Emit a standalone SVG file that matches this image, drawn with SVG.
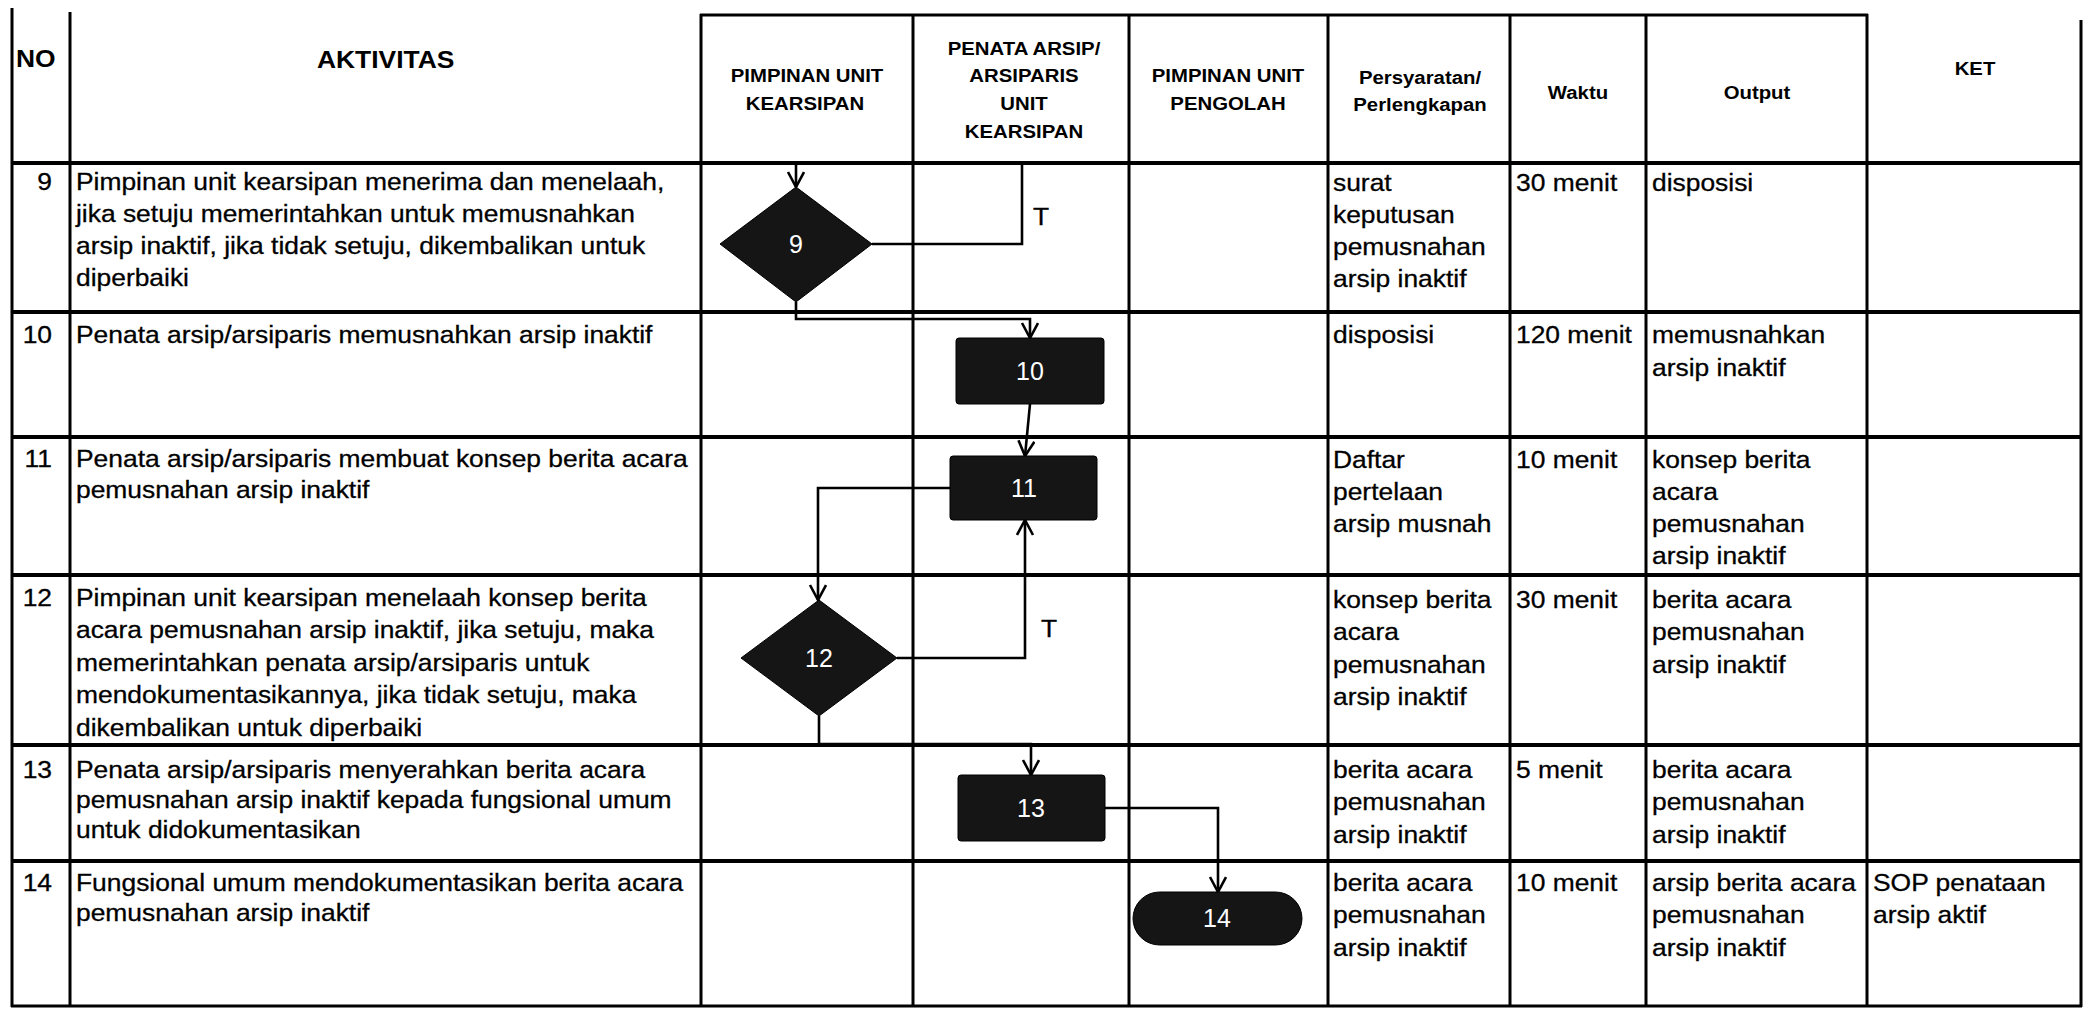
<svg xmlns="http://www.w3.org/2000/svg" width="2087" height="1014" viewBox="0 0 2087 1014">
<style>
.bg{fill:#fff}
.gv{stroke:#000;stroke-width:3;fill:none}
.gh{stroke:#000;stroke-width:4;fill:none}
.t{font-family:"Liberation Sans",Arial,sans-serif;font-size:24px;fill:#000;stroke:#000;stroke-width:0.3}
.h{font-family:"Liberation Sans",Arial,sans-serif;font-size:18.5px;font-weight:bold;fill:#000;text-anchor:middle}
.hb{font-family:"Liberation Sans",Arial,sans-serif;font-size:24px;font-weight:bold;fill:#000}
.num{text-anchor:end}
.node{fill:#151515;stroke:#000;stroke-width:1}
.nl{font-family:"Liberation Sans",Arial,sans-serif;font-size:25px;fill:#fff;text-anchor:middle}
.c{stroke:#000;stroke-width:2.6;fill:none;stroke-linejoin:miter}
</style>
<defs>
<marker id="arr" markerUnits="userSpaceOnUse" markerWidth="20" markerHeight="20" refX="16" refY="9" orient="auto">
<path d="M1,1 L16,9 L1,17" fill="none" stroke="#000" stroke-width="2.6"/>
</marker>
</defs>
<rect class="bg" x="0" y="0" width="2087" height="1014"/>

<g id="grid">
<line class="gv" x1="12" y1="8" x2="12" y2="1007"/>
<line class="gv" x1="70" y1="12" x2="70" y2="1007"/>
<line class="gv" x1="701" y1="14" x2="701" y2="1007"/>
<line class="gv" x1="913" y1="14" x2="913" y2="1007"/>
<line class="gv" x1="1129" y1="14" x2="1129" y2="1007"/>
<line class="gv" x1="1328" y1="14" x2="1328" y2="1007"/>
<line class="gv" x1="1510" y1="14" x2="1510" y2="1007"/>
<line class="gv" x1="1646" y1="14" x2="1646" y2="1007"/>
<line class="gv" x1="1867" y1="14" x2="1867" y2="1007"/>
<line class="gv" x1="2081" y1="20" x2="2081" y2="1007"/>
<line class="gv" x1="700" y1="15" x2="1868" y2="15"/>
<line class="gh" x1="11" y1="163" x2="2082" y2="163"/>
<line class="gh" x1="11" y1="312" x2="2082" y2="312"/>
<line class="gh" x1="11" y1="437" x2="2082" y2="437"/>
<line class="gh" x1="11" y1="575" x2="2082" y2="575"/>
<line class="gh" x1="11" y1="745" x2="2082" y2="745"/>
<line class="gh" x1="11" y1="861" x2="2082" y2="861"/>
<line class="gv" x1="11" y1="1006" x2="2082" y2="1006"/>
</g>

<g id="header">
<text class="hb" transform="matrix(1.1 0 0 1 16 67)">NO</text>
<text class="hb" transform="matrix(1.1 0 0 1 317 68)">AKTIVITAS</text>
<text class="h" transform="matrix(1.1 0 0 1 807 82)">PIMPINAN UNIT</text>
<text class="h" transform="matrix(1.1 0 0 1 805 110)">KEARSIPAN</text>
<text class="h" transform="matrix(1.1 0 0 1 1024 55)">PENATA ARSIP/</text>
<text class="h" transform="matrix(1.1 0 0 1 1024 82)">ARSIPARIS</text>
<text class="h" transform="matrix(1.1 0 0 1 1024 110)">UNIT</text>
<text class="h" transform="matrix(1.1 0 0 1 1024 138)">KEARSIPAN</text>
<text class="h" transform="matrix(1.1 0 0 1 1228 82)">PIMPINAN UNIT</text>
<text class="h" transform="matrix(1.1 0 0 1 1228 110)">PENGOLAH</text>
<text class="h" transform="matrix(1.1 0 0 1 1420 84)">Persyaratan/</text>
<text class="h" transform="matrix(1.1 0 0 1 1420 111)">Perlengkapan</text>
<text class="h" transform="matrix(1.1 0 0 1 1578 99)">Waktu</text>
<text class="h" transform="matrix(1.1 0 0 1 1757 99)">Output</text>
<text class="h" transform="matrix(1.1 0 0 1 1975 75)">KET</text>
</g>

<g id="rows">
<text class="t num" transform="matrix(1.1 0 0 1 52 190)">9</text>
<text class="t" transform="matrix(1.1 0 0 1 76 190)"><tspan x="0" y="0">Pimpinan unit kearsipan menerima dan menelaah,</tspan><tspan x="0" y="32">jika setuju memerintahkan untuk memusnahkan</tspan><tspan x="0" y="64">arsip inaktif, jika tidak setuju, dikembalikan untuk</tspan><tspan x="0" y="96">diperbaiki</tspan></text>
<text class="t" transform="matrix(1.1 0 0 1 1333 191)"><tspan x="0" y="0">surat</tspan><tspan x="0" y="32">keputusan</tspan><tspan x="0" y="64">pemusnahan</tspan><tspan x="0" y="96">arsip inaktif</tspan></text>
<text class="t" transform="matrix(1.1 0 0 1 1516 191)">30 menit</text>
<text class="t" transform="matrix(1.1 0 0 1 1652 191)">disposisi</text>

<text class="t num" transform="matrix(1.1 0 0 1 52 343)">10</text>
<text class="t" transform="matrix(1.1 0 0 1 76 343)">Penata arsip/arsiparis memusnahkan arsip inaktif</text>
<text class="t" transform="matrix(1.1 0 0 1 1333 343)">disposisi</text>
<text class="t" transform="matrix(1.1 0 0 1 1516 343)">120 menit</text>
<text class="t" transform="matrix(1.1 0 0 1 1652 343)"><tspan x="0" y="0">memusnahkan</tspan><tspan x="0" y="33">arsip inaktif</tspan></text>

<text class="t num" transform="matrix(1.1 0 0 1 52 467)">11</text>
<text class="t" transform="matrix(1.1 0 0 1 76 467)"><tspan x="0" y="0">Penata arsip/arsiparis membuat konsep berita acara</tspan><tspan x="0" y="31">pemusnahan arsip inaktif</tspan></text>
<text class="t" transform="matrix(1.1 0 0 1 1333 468)"><tspan x="0" y="0">Daftar</tspan><tspan x="0" y="32">pertelaan</tspan><tspan x="0" y="64">arsip musnah</tspan></text>
<text class="t" transform="matrix(1.1 0 0 1 1516 468)">10 menit</text>
<text class="t" transform="matrix(1.1 0 0 1 1652 468)"><tspan x="0" y="0">konsep berita</tspan><tspan x="0" y="32">acara</tspan><tspan x="0" y="64">pemusnahan</tspan><tspan x="0" y="96">arsip inaktif</tspan></text>

<text class="t num" transform="matrix(1.1 0 0 1 52 606)">12</text>
<text class="t" transform="matrix(1.1 0 0 1 76 606)"><tspan x="0" y="0">Pimpinan unit kearsipan menelaah konsep berita</tspan><tspan x="0" y="32.5">acara pemusnahan arsip inaktif, jika setuju, maka</tspan><tspan x="0" y="65">memerintahkan penata arsip/arsiparis untuk</tspan><tspan x="0" y="97.5">mendokumentasikannya, jika tidak setuju, maka</tspan><tspan x="0" y="130">dikembalikan untuk diperbaiki</tspan></text>
<text class="t" transform="matrix(1.1 0 0 1 1333 608)"><tspan x="0" y="0">konsep berita</tspan><tspan x="0" y="32.5">acara</tspan><tspan x="0" y="65">pemusnahan</tspan><tspan x="0" y="97.5">arsip inaktif</tspan></text>
<text class="t" transform="matrix(1.1 0 0 1 1516 608)">30 menit</text>
<text class="t" transform="matrix(1.1 0 0 1 1652 608)"><tspan x="0" y="0">berita acara</tspan><tspan x="0" y="32.5">pemusnahan</tspan><tspan x="0" y="65">arsip inaktif</tspan></text>

<text class="t num" transform="matrix(1.1 0 0 1 52 778)">13</text>
<text class="t" transform="matrix(1.1 0 0 1 76 778)"><tspan x="0" y="0">Penata arsip/arsiparis menyerahkan berita acara</tspan><tspan x="0" y="30">pemusnahan arsip inaktif kepada fungsional umum</tspan><tspan x="0" y="60">untuk didokumentasikan</tspan></text>
<text class="t" transform="matrix(1.1 0 0 1 1333 778)"><tspan x="0" y="0">berita acara</tspan><tspan x="0" y="32.5">pemusnahan</tspan><tspan x="0" y="65">arsip inaktif</tspan></text>
<text class="t" transform="matrix(1.1 0 0 1 1516 778)">5 menit</text>
<text class="t" transform="matrix(1.1 0 0 1 1652 778)"><tspan x="0" y="0">berita acara</tspan><tspan x="0" y="32.5">pemusnahan</tspan><tspan x="0" y="65">arsip inaktif</tspan></text>

<text class="t num" transform="matrix(1.1 0 0 1 52 891)">14</text>
<text class="t" transform="matrix(1.1 0 0 1 76 891)"><tspan x="0" y="0">Fungsional umum mendokumentasikan berita acara</tspan><tspan x="0" y="30">pemusnahan arsip inaktif</tspan></text>
<text class="t" transform="matrix(1.1 0 0 1 1333 891)"><tspan x="0" y="0">berita acara</tspan><tspan x="0" y="32.5">pemusnahan</tspan><tspan x="0" y="65">arsip inaktif</tspan></text>
<text class="t" transform="matrix(1.1 0 0 1 1516 891)">10 menit</text>
<text class="t" transform="matrix(1.1 0 0 1 1652 891)"><tspan x="0" y="0">arsip berita acara</tspan><tspan x="0" y="32.5">pemusnahan</tspan><tspan x="0" y="65">arsip inaktif</tspan></text>
<text class="t" transform="matrix(1.1 0 0 1 1873 891)"><tspan x="0" y="0">SOP penataan</tspan><tspan x="0" y="32.5">arsip aktif</tspan></text>
</g>

<g id="connectors">
<path class="c" d="M796,164 L796,187" marker-end="url(#arr)"/>
<path class="c" d="M872,244 L1022,244 L1022,164"/>
<path class="c" d="M796,302 L796,319 L1030,319 L1030,338" marker-end="url(#arr)"/>
<path class="c" d="M1030,404 L1025,456" marker-end="url(#arr)"/>
<path class="c" d="M950,488 L818,488 L818,600" marker-end="url(#arr)"/>
<path class="c" d="M897,658 L1025,658 L1025,520" marker-end="url(#arr)"/>
<path class="c" d="M819,716 L819,744 L1031,744 L1031,775" marker-end="url(#arr)"/>
<path class="c" d="M1105,808 L1218,808 L1218,892" marker-end="url(#arr)"/>
<text class="t" transform="matrix(1.1 0 0 1 1033 225)">T</text>
<text class="t" transform="matrix(1.1 0 0 1 1041 637)">T</text>
</g>

<g id="n9">
<polygon class="node" points="796,187 872,244 796,302 720,244"/>
<text class="nl" x="796" y="253">9</text>
</g>
<g id="n10">
<rect class="node" x="956" y="338" width="148" height="66" rx="3"/>
<text class="nl" x="1030" y="380">10</text>
</g>
<g id="n11">
<rect class="node" x="950" y="456" width="147" height="64" rx="3"/>
<text class="nl" x="1024" y="497">11</text>
</g>
<g id="n12">
<polygon class="node" points="819,600 897,658 819,716 741,658"/>
<text class="nl" x="819" y="667">12</text>
</g>
<g id="n13">
<rect class="node" x="958" y="775" width="147" height="66" rx="3"/>
<text class="nl" x="1031" y="817">13</text>
</g>
<g id="n14">
<rect class="node" x="1133" y="892" width="169" height="53" rx="26.5"/>
<text class="nl" x="1217" y="927">14</text>
</g>
</svg>
